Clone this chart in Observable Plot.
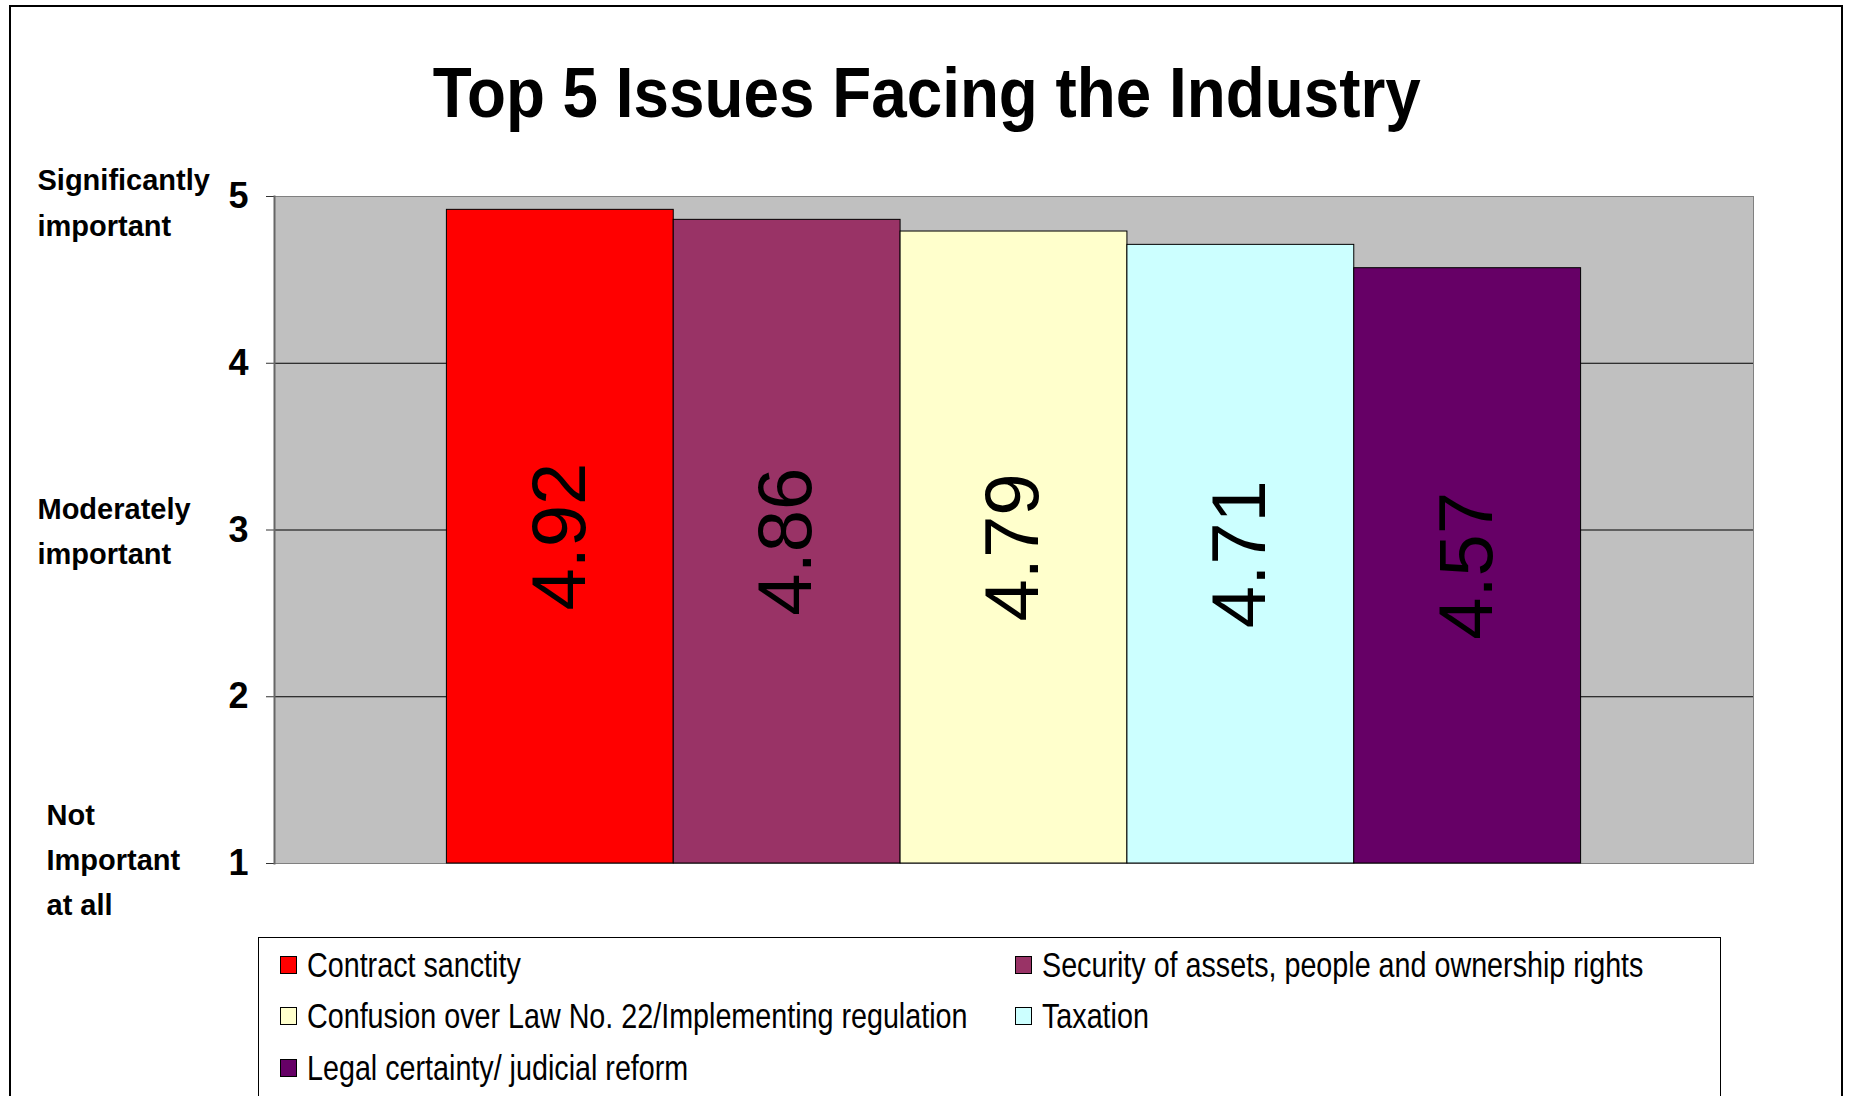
<!DOCTYPE html>
<html><head><meta charset="utf-8">
<script src="https://cdn.jsdelivr.net/npm/d3@7"></script>
<script src="https://cdn.jsdelivr.net/npm/@observablehq/plot@0.6"></script>
<style>
body{margin:0;background:#fff;}
#root{position:relative;width:1853px;height:1096px;overflow:hidden;background:#fff;}
#border{position:absolute;left:9px;top:5px;width:1834px;height:1200px;border:2px solid #000;box-sizing:border-box;}
#title{position:absolute;left:0;width:1853px;top:57px;text-align:center;font-weight:bold;font-size:71px;font-family:"Liberation Sans",Arial,sans-serif;line-height:71px;color:#000;white-space:nowrap;}
#title span{display:inline-block;transform-origin:50% 50%;}
#chart{position:absolute;left:0;top:140px;}
#legend{position:absolute;left:258px;top:937px;width:1463px;height:160px;border:1.5px solid #000;box-sizing:border-box;padding:1px 0 0 21px;display:grid;grid-template-columns:735px auto;grid-auto-rows:51.5px;align-items:center;font-family:"Liberation Sans",Arial,sans-serif;font-size:35px;color:#000;}
.item{display:flex;align-items:center;white-space:nowrap;}
.sw{width:15px;height:16px;border:1.5px solid #000;margin-right:10px;flex:none;}
.lt{display:inline-block;transform:scaleX(0.82);transform-origin:0 50%;}
</style></head>
<body><div id="root"><div id="border"></div><div id="title"><span></span></div><div id="chart"></div><div id="legend"></div></div>
<script>
const titleText = "Top 5 Issues Facing the Industry";
const issues = [
  "Contract sanctity",
  "Security of assets, people and ownership rights",
  "Confusion over Law No. 22/Implementing regulation",
  "Taxation",
  "Legal certainty/ judicial reform"
];
const scores = [4.92, 4.86, 4.79, 4.71, 4.57];
const colors = ["#FF0000", "#993366", "#FFFFCC", "#CCFFFF", "#660066"];
const yTicks = [1, 2, 3, 4, 5];
const gridValues = [2, 3, 4];
const levelLabels = ["Significantly\nimportant", "Moderately\nimportant", "Not\nImportant\nat all"];
const levelValues = [5, 3, 1];

const data = issues.map((name, i) => ({name, value: scores[i]}));
const levels = levelLabels.map((label, i) => ({label, y: levelValues[i]}));

const titleSpan = document.querySelector("#title span");
titleSpan.textContent = titleText;
const tw = titleSpan.getBoundingClientRect().width;
titleSpan.style.transform = `scaleX(${988 / tw})`;

const font = "'Liberation Sans', Arial, sans-serif";
const plot = Plot.plot({
  width: 1853,
  height: 773,
  marginTop: 56,
  marginBottom: 50,
  marginLeft: 274,
  marginRight: 100,
  style: {fontFamily: font, color: "#000", background: "transparent", overflow: "visible"},
  x: {domain: issues, type: "band", paddingInner: 0, paddingOuter: 0.76, round: false, axis: null},
  y: {domain: [1, 5], axis: null},
  color: {domain: issues, range: colors},
  marks: [
    Plot.frame({fill: "#C0C0C0", stroke: "#808080"}),
    Plot.ruleY(gridValues, {stroke: "#000", strokeWidth: 1}),
    Plot.axisY({ticks: yTicks, tickSize: 8, tickPadding: 18, fontSize: 36, fontWeight: "bold", fontFamily: font, stroke: "#333", tickFormat: d => String(d)}),
    Plot.frame({anchor: "left", stroke: "#666", strokeWidth: 2}),
    Plot.barY(data, {x: "name", y1: 1, y2: "value", fill: "name", stroke: "#000", strokeWidth: 1}),
    Plot.text(data, {x: "name", y: d => (1 + d.value) / 2, text: d => d.value.toFixed(2), rotate: -90, fontSize: 76, fontFamily: font, fill: "#000"}),
    Plot.text(levels.slice(0, 1), {y: "y", text: "label", frameAnchor: "left", textAnchor: "start", dx: -237, dy: 2, fontSize: 29, fontWeight: "bold", lineHeight: 1.56, fontFamily: font, fill: "#000"}),
    Plot.text(levels.slice(1, 2), {y: "y", text: "label", frameAnchor: "left", textAnchor: "start", dx: -237, dy: -3, fontSize: 29, fontWeight: "bold", lineHeight: 1.56, fontFamily: font, fill: "#000"}),
    Plot.text(levels.slice(2), {y: "y", text: "label", frameAnchor: "left", textAnchor: "start", dx: -228, dy: -8, fontSize: 29, fontWeight: "bold", lineHeight: 1.56, fontFamily: font, fill: "#000"})
  ]
});
document.getElementById("chart").appendChild(plot);

const legend = document.getElementById("legend");
issues.forEach((name, i) => {
  const item = document.createElement("div");
  item.className = "item";
  const sw = document.createElement("span");
  sw.className = "sw";
  sw.style.background = colors[i];
  const label = document.createElement("span");
  label.className = "lt";
  label.textContent = name;
  item.appendChild(sw);
  item.appendChild(label);
  legend.appendChild(item);
});
</script>
</body></html>
